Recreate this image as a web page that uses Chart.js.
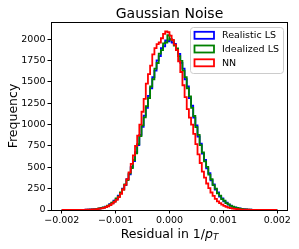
<!DOCTYPE html>
<html><head><meta charset="utf-8">
<script src="https://cdn.jsdelivr.net/npm/chart.js@4/dist/chart.umd.min.js"></script>
<style>html,body{margin:0;padding:0;background:#fff}#wrap{width:299px;height:249px}</style>
</head><body><div id="wrap"><canvas id="c" width="299" height="249"></canvas></div>
<script>
// ---- data (histogram heights per bin, 100 bins over binRange) ----
const binRange = [-0.002, 0.002];
const realisticLS = [
  0,0,1,0,0,0,1,1,0,2,
  2,3,3,6,6,10,13,16,24,27,
  40,48,67,80,108,128,168,197,251,291,
  362,416,503,573,678,760,880,972,1105,1196,
  1335,1425,1555,1630,1750,1800,1895,1915,1985,1975,
  2000,1960,1945,1870,1828,1722,1655,1530,1445,1310,
  1220,1080,990,860,775,660,585,488,430,348,
  300,240,205,158,135,100,85,62,52,36,
  30,20,18,11,10,6,5,3,2,2,
  1,1,1,0,1,0,0,0,0,0
];
const idealizedLS = [
  0,1,0,0,0,1,0,0,1,1,
  2,2,4,4,7,8,12,18,21,30,
  36,52,62,85,100,135,160,205,240,300,
  350,428,490,585,662,772,865,990,1085,1215,
  1310,1445,1530,1655,1720,1830,1870,1950,1960,2045,
  1995,1985,1925,1890,1800,1745,1630,1555,1425,1330,
  1195,1100,970,880,760,675,570,505,415,360,
  290,250,195,168,128,108,80,66,48,40,
  28,24,16,13,8,8,4,4,2,1,
  2,1,0,1,0,0,0,0,0,0
];
const nnValues = [
  0,0,0,1,0,1,1,0,1,2,
  2,3,4,5,6,8,11,15,20,26,
  34,44,58,75,95,118,150,190,240,295,
  360,440,540,640,750,870,1000,1150,1300,1480,
  1590,1690,1820,1895,1940,1960,2010,2060,2090,2080,
  2040,1990,1935,1870,1740,1615,1460,1320,1180,1080,
  1000,890,770,650,550,450,378,310,255,205,
  165,130,102,80,62,48,37,28,21,16,
  12,9,7,5,4,3,3,2,2,1,
  1,1,0,1,0,0,1,0,0,0
];
const seriesLabels = ['Realistic LS', 'Idealized LS', 'NN'];
const xTicks = [-0.002, -0.001, 0, 0.001, 0.002];
const xTickLabels = ['\u22120.002', '\u22120.001', '0.000', '0.001', '0.002'];
const yTicks = [0, 250, 500, 750, 1000, 1250, 1500, 1750, 2000];
const yTickLabels = ['0', '250', '500', '750', '1000', '1250', '1500', '1750', '2000'];
const titleText = 'Gaussian Noise';
const yTitle = 'Frequency';
const xTitleParts = ['Residual in 1/', 'p', 'T'];

// ---- styling ----
const colors = ['#0000ff', '#008000', '#ff0000'];
const FONT = 'DejaVu Sans';

function stepPoints(values) {
  const n = values.length;
  const w = (binRange[1] - binRange[0]) / n;
  const pts = [{x: binRange[0], y: 0}];
  for (let i = 0; i < n; i++) pts.push({x: binRange[0] + i * w, y: values[i]});
  pts.push({x: binRange[1], y: values[n - 1]});
  pts.push({x: binRange[1], y: 0});
  return pts;
}

const decor = {
  id: 'decor',
  afterDatasetsDraw(chart) {
    const ctx = chart.ctx, a = chart.chartArea;
    ctx.save();
    // spines
    ctx.strokeStyle = '#000';
    ctx.lineWidth = 1;
    ctx.strokeRect(Math.round(a.left) + 0.5, Math.round(a.top) + 0.5,
                   Math.round(a.right - a.left) - 1, Math.round(a.bottom - a.top));
    // legend
    const bx = 190.5, by = 27.5, bw = 93, bh = 46, r = 3;
    ctx.beginPath();
    ctx.moveTo(bx + r, by);
    ctx.arcTo(bx + bw, by, bx + bw, by + bh, r);
    ctx.arcTo(bx + bw, by + bh, bx, by + bh, r);
    ctx.arcTo(bx, by + bh, bx, by, r);
    ctx.arcTo(bx, by, bx + bw, by, r);
    ctx.closePath();
    ctx.fillStyle = 'rgba(255,255,255,0.8)';
    ctx.fill();
    ctx.strokeStyle = '#cccccc';
    ctx.stroke();
    const rows = [35.3, 49, 62.8];
    ctx.font = '9.5px "' + FONT + '"';
    ctx.textBaseline = 'middle';
    ctx.textAlign = 'left';
    for (let k = 0; k < 3; k++) {
      ctx.strokeStyle = colors[k];
      ctx.lineWidth = 1.8;
      ctx.strokeRect(194.5, rows[k] - 3.5, 19.5, 7);
      ctx.fillStyle = '#000';
      ctx.fillText(seriesLabels[k], 222, rows[k] + 0.5);
    }
    ctx.restore();
  },
  afterDraw(chart) {
    const ctx = chart.ctx, a = chart.chartArea;
    const cx = (a.left + a.right) / 2, cy = (a.top + a.bottom) / 2;
    ctx.save();
    ctx.fillStyle = '#000';
    ctx.textAlign = 'center';
    ctx.textBaseline = 'alphabetic';
    ctx.font = '14px "' + FONT + '"';
    ctx.fillText(titleText, cx, 18.3);
    // y title
    ctx.save();
    ctx.translate(16.5, cy);
    ctx.rotate(-Math.PI / 2);
    ctx.font = '12.5px "' + FONT + '"';
    ctx.fillText(yTitle, 0, 0);
    ctx.restore();
    // x title with italic p and subscript T
    const fN = '12.5px "' + FONT + '"', fI = 'italic 12.5px "' + FONT + '"', fS = 'italic 8.8px "' + FONT + '"';
    ctx.textAlign = 'left';
    ctx.font = fN; const w1 = ctx.measureText(xTitleParts[0]).width;
    ctx.font = fI; const w2 = ctx.measureText(xTitleParts[1]).width;
    ctx.font = fS; const w3 = ctx.measureText(xTitleParts[2]).width;
    let x = cx - (w1 + w2 + w3) / 2;
    const base = 237.5;
    ctx.font = fN; ctx.fillText(xTitleParts[0], x, base); x += w1;
    ctx.font = fI; ctx.fillText(xTitleParts[1], x, base); x += w2;
    ctx.font = fS; ctx.fillText(xTitleParts[2], x, base + 2.5);
    ctx.restore();
  }
};

const datasets = [realisticLS, idealizedLS, nnValues].map((vals, k) => ({
  label: seriesLabels[k],
  data: stepPoints(vals),
  borderColor: colors[k],
  borderWidth: 1.8,
  stepped: 'before',
  pointRadius: 0,
  fill: false,
  order: 2 - k
}));

new Chart(document.getElementById('c'), {
  type: 'line',
  data: {datasets},
  options: {
    responsive: false,
    animation: false,
    devicePixelRatio: 1,
    layout: {padding: {top: 22, right: 11, left: 0, bottom: 0}},
    plugins: {legend: {display: false}, tooltip: {enabled: false}, title: {display: false}},
    scales: {
      x: {
        type: 'linear', min: -0.0022, max: 0.0022,
        afterBuildTicks: s => { s.ticks = xTicks.map(v => ({value: v})); },
        afterFit: s => { s.height = 39; },
        ticks: {
          callback: v => { const i = xTicks.findIndex(t => Math.abs(t - v) < 1e-9); return i >= 0 ? xTickLabels[i] : ''; },
          font: {family: FONT, size: 9.5}, color: '#000', padding: 1, maxRotation: 0, autoSkip: false
        },
        grid: {drawOnChartArea: false, drawTicks: true, tickLength: 3.5, color: '#000', lineWidth: 1},
        border: {display: false}
      },
      y: {
        type: 'linear', min: 0, max: 2200,
        afterBuildTicks: s => { s.ticks = yTicks.map(v => ({value: v})); },
        afterFit: s => { s.width = 51; },
        ticks: {
          callback: v => { const i = yTicks.indexOf(v); return i >= 0 ? yTickLabels[i] : ''; },
          font: {family: FONT, size: 9.5}, color: '#000', padding: 2
        },
        grid: {drawOnChartArea: false, drawTicks: true, tickLength: 3.5, color: '#000', lineWidth: 1},
        border: {display: false}
      }
    }
  },
  plugins: [decor]
});
</script></body></html>
